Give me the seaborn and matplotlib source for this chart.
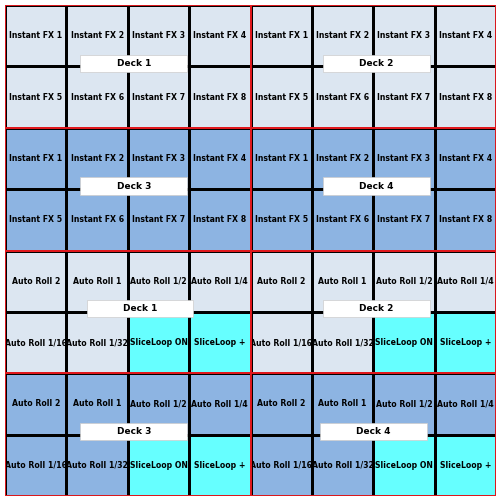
import numpy as np
import seaborn as sns
import matplotlib.pyplot as plt
from matplotlib.colors import ListedColormap
from matplotlib.patches import Rectangle

fx_top = ["Instant FX 1", "Instant FX 2", "Instant FX 3", "Instant FX 4"]
fx_bot = ["Instant FX 5", "Instant FX 6", "Instant FX 7", "Instant FX 8"]
roll_top = ["Auto Roll 2", "Auto Roll 1", "Auto Roll 1/2", "Auto Roll 1/4"]
roll_bot = ["Auto Roll 1/16", "Auto Roll 1/32", "SliceLoop ON", "SliceLoop +"]

labels = [
    fx_top + fx_top, fx_bot + fx_bot,
    fx_top + fx_top, fx_bot + fx_bot,
    roll_top + roll_top, roll_bot + roll_bot,
    roll_top + roll_top, roll_bot + roll_bot,
]
# 0 = light blue, 1 = blue, 2 = cyan
kind = np.array([
    [0] * 8, [0] * 8,
    [1] * 8, [1] * 8,
    [0] * 8, [0, 0, 2, 2, 0, 0, 2, 2],
    [1] * 8, [1, 1, 2, 2, 1, 1, 2, 2],
])
deck_names = ["Deck 1", "Deck 2", "Deck 3", "Deck 4", "Deck 1", "Deck 2", "Deck 3", "Deck 4"]
deck_x = [2.1, 6.05, 2.1, 6.05, 2.2, 6.05, 2.1, 6.0]
deck_y = [0.95, 0.95, 2.95, 2.95, 4.95, 4.95, 6.95, 6.95]

cmap = ListedColormap(["#dce6f1", "#8db4e2", "#66ffff"])

fig = plt.figure(figsize=(5.01, 5.0), dpi=100)
ax = fig.add_axes([5 / 501, 4 / 500, 491 / 501, 491 / 500])
sns.heatmap(kind, ax=ax, cmap=cmap, vmin=-0.5, vmax=2.5, cbar=False,
            annot=np.array(labels), fmt="", linewidths=0.8, linecolor="black",
            annot_kws={"fontsize": 5.6, "fontweight": "bold", "color": "black",
                       "family": "Liberation Sans Narrow"})
ax.set_xticks([])
ax.set_yticks([])

for r in range(0, 8, 2):
    for c in range(0, 8, 4):
        ax.add_patch(Rectangle((c, r), 4, 2, fill=False, edgecolor="#e0191e", lw=1.4, zorder=5))

for name, x, y in zip(deck_names, deck_x, deck_y):
    ax.add_patch(Rectangle((x - 0.87, y - 0.14), 1.74, 0.28, facecolor="white",
                           edgecolor="#cccccc", lw=0.5, zorder=6))
    ax.text(x, y, name, ha="center", va="center", fontsize=6.5, fontweight="bold", zorder=7,
            family="Liberation Sans Narrow")

fig.savefig("out.png", dpi=100)
